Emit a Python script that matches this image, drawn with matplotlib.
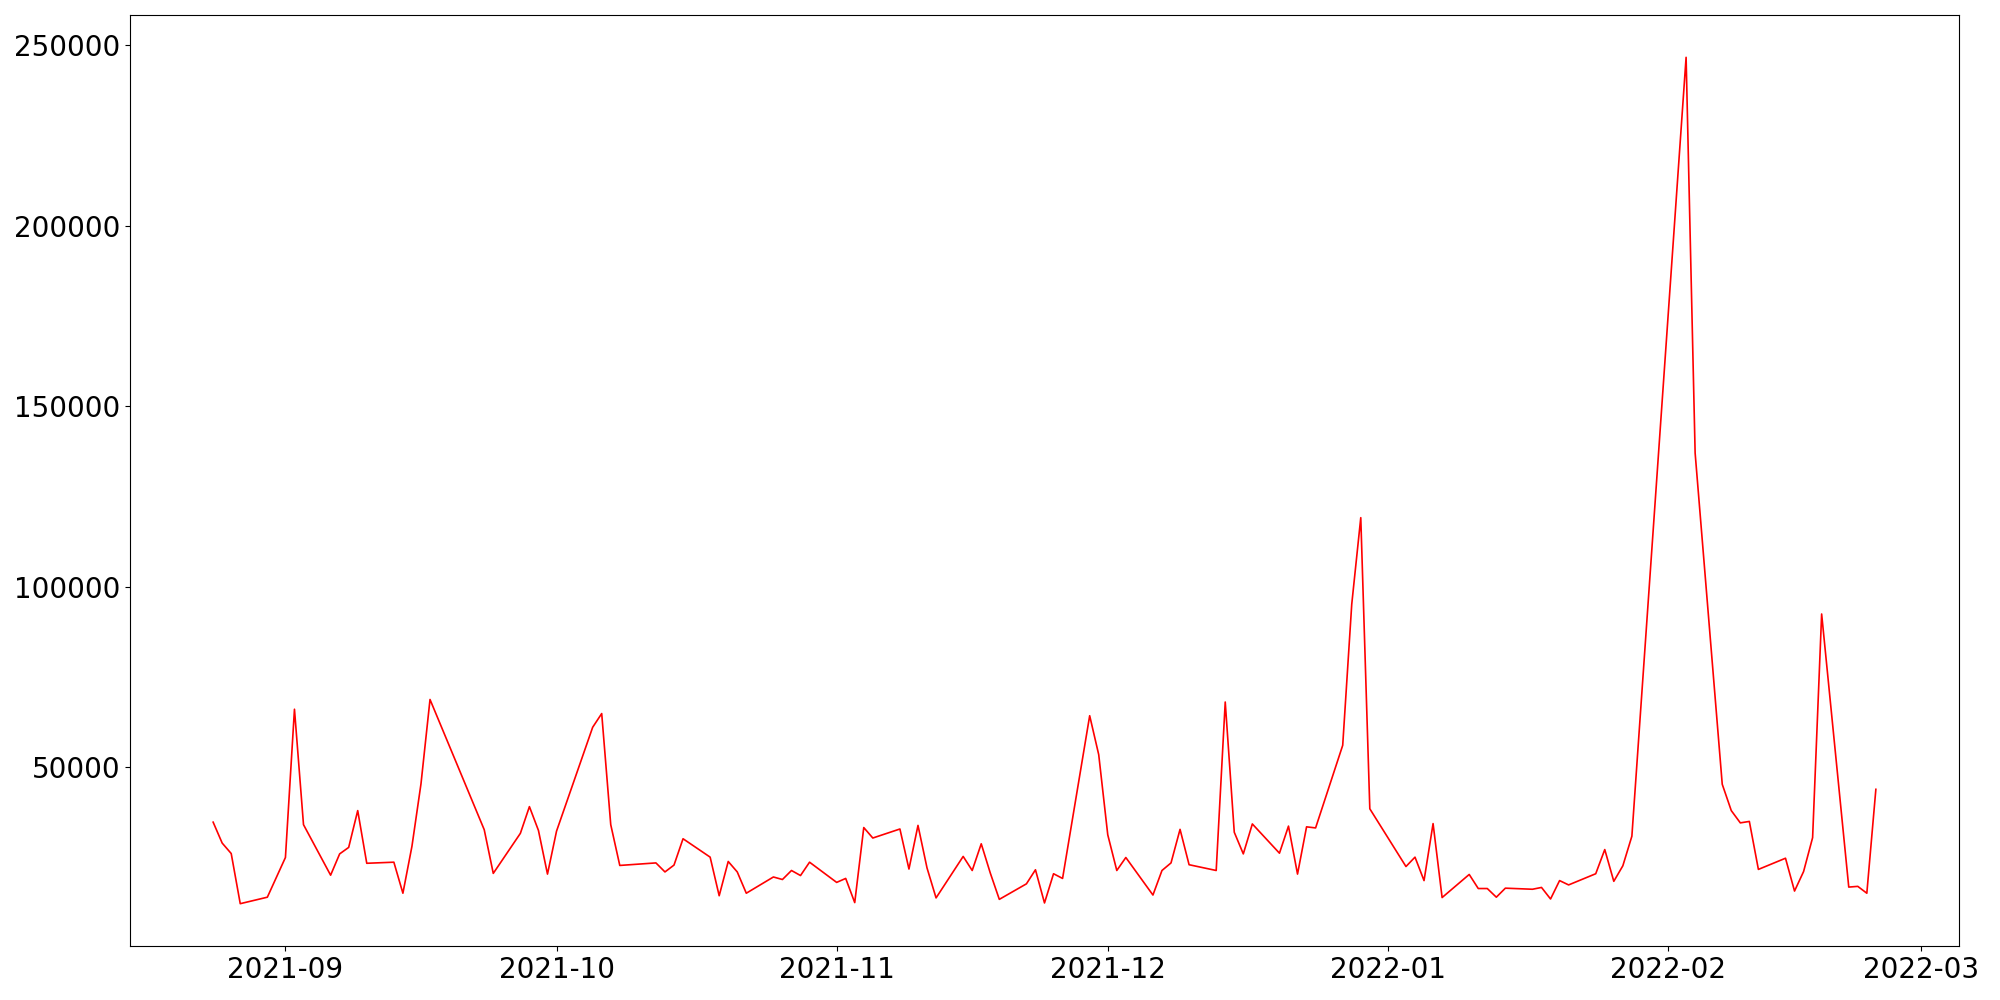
import pandas as pd
import matplotlib
matplotlib.use('Agg')
import matplotlib.pyplot as plt
import matplotlib.dates as mdates

dates = [
    '2021-08-24', '2021-08-25', '2021-08-26', '2021-08-27', '2021-08-30',
    '2021-09-01', '2021-09-02', '2021-09-03', '2021-09-06', '2021-09-07',
    '2021-09-08', '2021-09-09', '2021-09-10', '2021-09-13', '2021-09-14',
    '2021-09-15', '2021-09-16', '2021-09-17', '2021-09-23', '2021-09-24',
    '2021-09-27', '2021-09-28', '2021-09-29', '2021-09-30', '2021-10-01',
    '2021-10-05', '2021-10-06', '2021-10-07', '2021-10-08', '2021-10-12',
    '2021-10-13', '2021-10-14', '2021-10-15', '2021-10-18', '2021-10-19',
    '2021-10-20', '2021-10-21', '2021-10-22', '2021-10-25', '2021-10-26',
    '2021-10-27', '2021-10-28', '2021-10-29', '2021-11-01', '2021-11-02',
    '2021-11-03', '2021-11-04', '2021-11-05', '2021-11-08', '2021-11-09',
    '2021-11-10', '2021-11-11', '2021-11-12', '2021-11-15', '2021-11-16',
    '2021-11-17', '2021-11-18', '2021-11-19', '2021-11-22', '2021-11-23',
    '2021-11-24', '2021-11-25', '2021-11-26', '2021-11-29', '2021-11-30',
    '2021-12-01', '2021-12-02', '2021-12-03', '2021-12-06', '2021-12-07',
    '2021-12-08', '2021-12-09', '2021-12-10', '2021-12-13', '2021-12-14',
    '2021-12-15', '2021-12-16', '2021-12-17', '2021-12-20', '2021-12-21',
    '2021-12-22', '2021-12-23', '2021-12-24', '2021-12-27', '2021-12-28',
    '2021-12-29', '2021-12-30', '2022-01-03', '2022-01-04', '2022-01-05',
    '2022-01-06', '2022-01-07', '2022-01-10', '2022-01-11', '2022-01-12',
    '2022-01-13', '2022-01-14', '2022-01-17', '2022-01-18', '2022-01-19',
    '2022-01-20', '2022-01-21', '2022-01-24', '2022-01-25', '2022-01-26',
    '2022-01-27', '2022-01-28', '2022-02-03', '2022-02-04', '2022-02-07',
    '2022-02-08', '2022-02-09', '2022-02-10', '2022-02-11', '2022-02-14',
    '2022-02-15', '2022-02-16', '2022-02-17', '2022-02-18', '2022-02-21',
    '2022-02-22', '2022-02-23', '2022-02-24',
]

values = [
    34700, 28900, 26000, 12100, 13900,
    24900, 66000, 34000, 20000, 25900,
    27700, 37900, 23300, 23600, 15000,
    28000, 45300, 68700, 32600, 20500,
    31600, 39000, 32400, 20300, 32200,
    61000, 64800, 34000, 22700, 23400,
    20900, 22800, 30100, 25000, 14300,
    23800, 20900, 15000, 19500, 18800,
    21300, 19900, 23600, 18000, 19100,
    12400, 33200, 30300, 32800, 21700,
    33800, 22000, 13700, 25200, 21300,
    28700, 20600, 13300, 17600, 21500,
    12300, 20400, 19100, 64200, 53400,
    31200, 21300, 24900, 14500, 21300,
    23400, 32700, 22900, 21300, 68000,
    31900, 25900, 34200, 26100, 33600,
    20300, 33400, 33100, 56000, 95100,
    119100, 38400, 22400, 25000, 18500,
    34300, 13800, 20200, 16300, 16300,
    13900, 16400, 16100, 16600, 13400,
    18500, 17300, 20400, 27100, 18300,
    22600, 30800, 246700, 137000, 45200,
    37900, 34500, 34900, 21600, 24700,
    15600, 21000, 30400, 92400, 16700,
    16900, 15000, 43800,
]

x = pd.to_datetime(dates)

fig, ax = plt.subplots(figsize=(20, 10), dpi=100)
ax.plot(x, values, color='red', linewidth=1.2)

ax.xaxis.set_major_locator(mdates.MonthLocator())
ax.xaxis.set_major_formatter(mdates.DateFormatter('%Y-%m'))
ax.tick_params(axis='both', labelsize=20)

fig.subplots_adjust(left=0.065, right=0.9795, bottom=0.054, top=0.985)
plt.savefig('out.png')
plt.close()
